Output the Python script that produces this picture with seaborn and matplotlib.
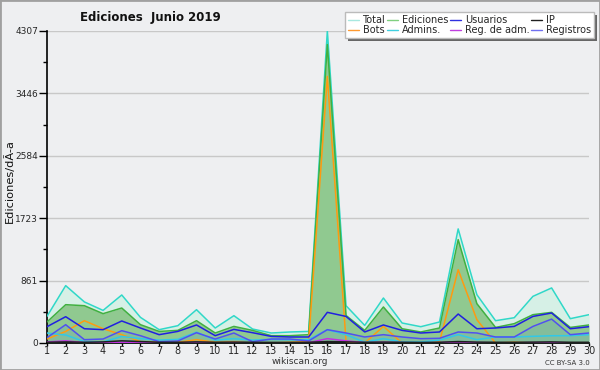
import matplotlib
matplotlib.use("Agg")
import matplotlib.pyplot as plt
import seaborn as sns
import pandas as pd
import numpy as np
from matplotlib.lines import Line2D
from matplotlib.patches import Rectangle

days = list(range(1, 31))
total = [368, 792, 567, 450, 663, 354, 184, 239, 460, 207, 377, 193, 138, 152, 160,
         4307, 515, 243, 621, 276, 225, 290, 1575, 667, 308, 349, 644, 760, 336, 391]
ediciones = [290, 529, 515, 405, 483, 253, 160, 174, 308, 138, 229, 174, 101, 101, 115,
             4120, 380, 174, 497, 197, 152, 207, 1427, 543, 215, 267, 391, 423, 215, 249]
usuarios = [225, 363, 197, 184, 304, 207, 115, 160, 249, 101, 188, 142, 91, 83, 83,
            423, 367, 152, 249, 174, 138, 152, 400, 197, 207, 229, 367, 414, 197, 225]
ip = [10, 15, 10, 15, 30, 20, 10, 10, 15, 10, 12, 10, 8, 8, 10,
      20, 15, 10, 12, 10, 8, 10, 20, 12, 10, 10, 12, 15, 10, 10]
bots = [55, 160, 308, 197, 115, 18, 10, 10, 46, 10, 14, 0, 0, 10, 20,
        3680, 20, 0, 229, 0, 0, 14, 1012, 322, 0, 10, 0, 0, 0, 0]
admins = [138, 110, 20, 15, 90, 60, 40, 50, 150, 40, 60, 40, 50, 45, 46,
          184, 115, 10, 60, 14, 14, 40, 115, 46, 83, 83, 92, 100, 101, 115]
reg_adm = [14, 30, 5, 5, 10, 5, 3, 3, 8, 3, 5, 3, 3, 3, 5,
           60, 30, 5, 10, 5, 3, 5, 15, 5, 3, 3, 5, 5, 3, 3]
registros = [74, 253, 46, 55, 170, 101, 18, 28, 142, 55, 138, 18, 55, 55, 28,
             184, 138, 83, 115, 83, 60, 65, 152, 138, 83, 83, 229, 330, 115, 138]

yticks = [0, 861, 1723, 2584, 3446, 4307]
title = "Ediciones  Junio 2019"
ylabel = "Ediciones/dÃ-a"

df = pd.DataFrame({"dia": days, "Total": total, "Ediciones": ediciones,
                   "Usuarios": usuarios, "IP": ip, "Bots": bots, "Admins.": admins,
                   "Reg. de adm.": reg_adm, "Registros": registros})

bg = "#eeeff1"
sns.set_theme(style="white")
plt.rcParams['font.family'] = ['DejaVu Sans']

fig = plt.figure(figsize=(6, 3.7), dpi=100, facecolor=bg)
ax = fig.add_axes([47/600, 27/370, 542/600, 312/370])
ax.set_facecolor(bg)

line_colors = {"Total": "#30d8c8", "Ediciones": "#40b040", "Usuarios": "#2020e0",
               "IP": "#202020", "Bots": "#ff9a10", "Admins.": "#30c8e8",
               "Reg. de adm.": "#c030e0", "Registros": "#5050f0"}
legend_colors = {"Total": "#a8e8e0", "Ediciones": "#80d080", "Usuarios": "#3030e0",
                 "IP": "#202020", "Bots": "#ff9a30", "Admins.": "#40d0e0",
                 "Reg. de adm.": "#c040e0", "Registros": "#7070f0"}

ax.fill_between(df["dia"], df["Total"], color="#d6f0e6", lw=0, zorder=1)
ax.fill_between(df["dia"], df["Ediciones"], color="#90c990", lw=0, zorder=2)
ax.fill_between(df["dia"], df["Registros"], color="#70a8b0", alpha=0.35, lw=0, zorder=2.5)

order = ["Total", "Ediciones", "Bots", "Admins.", "Registros", "Usuarios", "Reg. de adm.", "IP"]
for i, name in enumerate(order):
    sns.lineplot(data=df, x="dia", y=name, ax=ax, color=line_colors[name],
                 lw=1.1, zorder=3 + i, legend=False)

ax.set_xlim(1, 30)
ax.set_ylim(0, 4307)
ax.set_xticks(days)
ax.set_xticklabels([str(d) for d in days])
ax.set_yticks(yticks)
ax.set_yticklabels([str(t) for t in yticks])
ax.set_yticks([(yticks[i] + yticks[i+1]) / 2 for i in range(len(yticks)-1)], minor=True)
ax.grid(axis="y", color="#c8c8c8", lw=1, zorder=0)
ax.set_axisbelow(True)
for s in ["top", "right"]:
    ax.spines[s].set_visible(False)
for s in ["left", "bottom"]:
    ax.spines[s].set_color("black")
    ax.spines[s].set_linewidth(1.2)
ax.tick_params(axis="y", which="major", length=6, width=1, color="black",
               labelsize=6.5, pad=0.5, left=True)
ax.tick_params(axis="y", which="minor", length=3, width=1, color="black", left=True)
ax.tick_params(axis="x", which="major", length=2, width=1, color="black",
               labelsize=7, pad=0.5, bottom=True)
ax.set_xlabel("")
ax.set_ylabel("")
fig.text(9/600, 1 - 181/370, ylabel, rotation=90, ha="center", va="center",
         fontsize=8.2, color="#111111")

fig.text(150/600, 1 - 17/370, title, ha="center", va="center",
         fontsize=8.5, fontweight="bold", color="#111111")
fig.text(300/600, 1 - 362/370, "wikiscan.org", ha="center", va="center",
         fontsize=6.5, color="#333333")
fig.text(590/600, 1 - 363/370, "CC BY-SA 3.0", ha="right", va="center",
         fontsize=5, color="#333333")

# legend
leg_order = ["Total", "Bots", "Ediciones", "Admins.", "Usuarios", "Reg. de adm.", "IP", "Registros"]
handles = [Line2D([0], [0], color=legend_colors[n], lw=1) for n in leg_order]
leg = fig.legend(handles, leg_order, ncol=4, loc="upper left",
                 bbox_to_anchor=(345/600, 1 - 12/370), fontsize=7,
                 frameon=True, fancybox=False, shadow=False,
                 handlelength=1.1, handletextpad=0.4, columnspacing=0.2,
                 labelspacing=0.0, borderpad=0.3, borderaxespad=0)
leg.get_frame().set_facecolor("white")
leg.get_frame().set_edgecolor("#bbbbbb")
leg.get_frame().set_alpha(1)
leg.set_zorder(10)

fig.canvas.draw()
bb = leg.get_window_extent().transformed(fig.transFigure.inverted())
fig.patches.append(Rectangle((bb.x0 + 3/600, bb.y0 - 3/370), bb.width, bb.height,
                             transform=fig.transFigure, facecolor="#666666",
                             edgecolor="none", zorder=9))

fig.patches.append(Rectangle((0, 0), 1, 1, transform=fig.transFigure,
                             facecolor="none", edgecolor="#a0a0a0", lw=2, zorder=20))

fig.savefig("out.png", dpi=100, facecolor=bg)
